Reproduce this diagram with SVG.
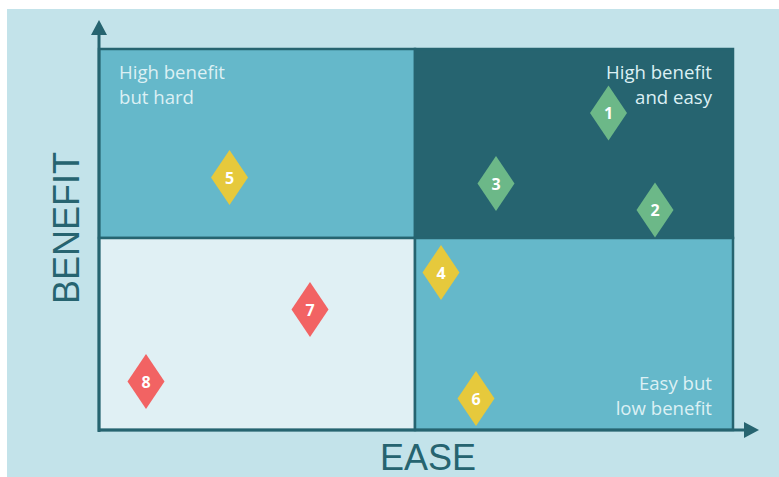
<svg xmlns="http://www.w3.org/2000/svg" width="779" height="477" viewBox="0 0 779 477">
<style>
.q{stroke:#266470;stroke-width:2.5}
.lbl{font-family:"Open Sans","DejaVu Sans",sans-serif;font-size:18.6px;fill:#dcf0f4}
.ax{font-family:"Liberation Sans",Arial,sans-serif;font-size:36px;fill:#266470}
.num{font-family:"Open Sans","DejaVu Sans",sans-serif;font-size:16px;font-weight:bold;fill:#ffffff;text-anchor:middle}
.g{fill:#6cb888}.y{fill:#e6c93c}.r{fill:#f26363}
</style>
<defs>
<polygon id="dm" points="0,-27.5 18.5,0 0,27.5 -18.5,0"/>
</defs>
<rect x="0" y="0" width="779" height="477" fill="#ffffff"/>
<rect x="7" y="9" width="772" height="468" fill="#c3e3ea"/>
<g id="q-tl"><rect class="q" x="99" y="49" width="316" height="189" fill="#65b8ca"/><text class="lbl" x="119" y="79">High benefit</text><text class="lbl" x="119" y="104">but hard</text></g>
<g id="q-tr"><rect class="q" x="415" y="49" width="318" height="189" fill="#266470"/><text class="lbl" x="712" y="79" text-anchor="end">High benefit</text><text class="lbl" x="712" y="104" text-anchor="end">and easy</text></g>
<g id="q-bl"><rect class="q" x="99" y="238" width="316" height="192" fill="#e0f0f4"/></g>
<g id="q-br"><rect class="q" x="415" y="238" width="318" height="192" fill="#65b8ca"/><text class="lbl" x="712" y="390" text-anchor="end">Easy but</text><text class="lbl" x="712" y="415" text-anchor="end">low benefit</text></g>
<g id="connectors">
<line x1="99" y1="432" x2="99" y2="34" stroke="#266470" stroke-width="3"/>
<polygon points="99,20 107,35 91,35" fill="#266470"/>
<line x1="98" y1="430" x2="745" y2="430" stroke="#266470" stroke-width="3"/>
<polygon points="759,430 744,422 744,438" fill="#266470"/>
</g>
<g id="axis-benefit"><text class="ax" transform="translate(79,228) rotate(-90)" text-anchor="middle">BENEFIT</text></g>
<g id="axis-ease"><text class="ax" x="428" y="470" text-anchor="middle">EASE</text></g>
<g id="d1"><use href="#dm" class="g" x="608.5" y="113"/><text class="num" x="608.5" y="119">1</text></g>
<g id="d2"><use href="#dm" class="g" x="655" y="210"/><text class="num" x="655" y="216">2</text></g>
<g id="d3"><use href="#dm" class="g" x="496" y="183.5"/><text class="num" x="496" y="189.5">3</text></g>
<g id="d4"><use href="#dm" class="y" x="441" y="272.5"/><text class="num" x="441" y="278.5">4</text></g>
<g id="d5"><use href="#dm" class="y" x="229.5" y="177.5"/><text class="num" x="229.5" y="183.5">5</text></g>
<g id="d6"><use href="#dm" class="y" x="476" y="398.5"/><text class="num" x="476" y="404.5">6</text></g>
<g id="d7"><use href="#dm" class="r" x="310" y="309.5"/><text class="num" x="310" y="315.5">7</text></g>
<g id="d8"><use href="#dm" class="r" x="146" y="381.5"/><text class="num" x="146" y="387.5">8</text></g>
</svg>
